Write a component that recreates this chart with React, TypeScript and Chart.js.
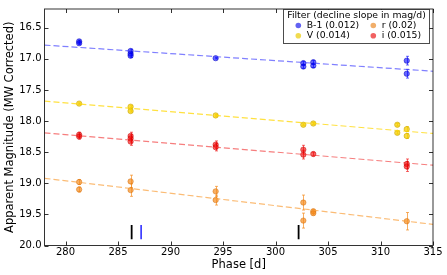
import React, { useEffect, useRef } from "react";
import { Chart, registerables } from "chart.js";
Chart.register(...registerables);

const xTicks = [280, 285, 290, 295, 300, 305, 310, 315];
const yTicks = [16.5, 17.0, 17.5, 18.0, 18.5, 19.0, 19.5, 20.0];

const bPhase = [281.3, 281.3, 286.2, 286.2, 286.2, 294.3, 302.65, 302.65, 303.6, 303.6, 312.5, 312.5];
const bMag = [16.72, 16.75, 16.875, 16.92, 16.95, 16.99, 17.07, 17.125, 17.055, 17.11, 17.03, 17.24];
const bErr = [0.02, 0.02, 0.03, 0.03, 0.03, 0.01, 0.03, 0.03, 0.03, 0.03, 0.07, 0.07];

const vPhase = [281.3, 286.2, 286.2, 294.3, 302.65, 303.6, 311.6, 311.6, 312.5, 312.5];
const vMag = [17.72, 17.77, 17.84, 17.91, 18.06, 18.04, 18.06, 18.19, 18.13, 18.24];
const vErr = [0.01, 0.015, 0.015, 0.015, 0.015, 0.015, 0.02, 0.02, 0.04, 0.04];

const iPhase = [281.3, 281.3, 286.2, 286.2, 286.2, 294.3, 294.3, 302.65, 302.65, 303.6, 312.5, 312.5];
const iMag = [18.22, 18.25, 18.24, 18.28, 18.33, 18.38, 18.42, 18.46, 18.54, 18.53, 18.69, 18.73];
const iErr = [0.04, 0.04, 0.06, 0.06, 0.06, 0.06, 0.06, 0.07, 0.07, 0.03, 0.08, 0.08];

const rPhase = [281.3, 281.3, 286.2, 286.2, 294.3, 294.3, 302.65, 302.65, 303.6, 303.6, 312.5];
const rMag = [18.98, 19.1, 18.97, 19.11, 19.13, 19.27, 19.31, 19.6, 19.45, 19.48, 19.61];
const rErr = [0.04, 0.04, 0.1, 0.1, 0.08, 0.08, 0.12, 0.12, 0.03, 0.03, 0.14];

// fitted decline lines: magnitude at phase 278 and 315
const fitPhase = [278, 315];
const bFit = [16.78, 17.2];
const vFit = [17.68, 18.2];
const iFit = [18.19, 18.71];
const rFit = [18.92, 19.66];

// vertical epoch markers
const markPhase = [286.3, 287.2, 302.2];
const markColor = ["#000000", "#0000ff", "#000000"];
const markRange = [19.67, 19.9];

const legendLabels = ["B-1 (0.012)", "r (0.02)", "V (0.014)", "i (0.015)"];

const FONT = "DejaVu Sans";

const filters = [
  { phase: bPhase, mag: bMag, err: bErr, fit: bFit, fill: "rgba(0,0,255,0.6)", edge: "rgba(0,0,190,0.6)", line: "rgba(60,60,255,0.65)", legend: "rgba(70,70,240,0.85)" },
  { phase: vPhase, mag: vMag, err: vErr, fit: vFit, fill: "rgba(245,205,0,0.75)", edge: "rgba(200,165,0,0.7)", line: "rgba(255,215,0,0.75)", legend: "rgba(240,215,60,0.9)" },
  { phase: iPhase, mag: iMag, err: iErr, fit: iFit, fill: "rgba(240,0,0,0.6)", edge: "rgba(200,0,0,0.6)", line: "rgba(240,40,40,0.6)", legend: "rgba(240,80,80,0.9)" },
  { phase: rPhase, mag: rMag, err: rErr, fit: rFit, fill: "rgba(245,140,30,0.7)", edge: "rgba(210,110,10,0.6)", line: "rgba(250,160,60,0.7)", legend: "rgba(240,165,90,0.9)" },
];

const errorBarPlugin = {
  id: "errorBars",
  beforeDatasetsDraw(chart: any) {
    const ctx = chart.ctx;
    const xs = chart.scales.x;
    const ys = chart.scales.y;
    ctx.save();
    chart.data.datasets.forEach((ds: any) => {
      if (!ds.errs) return;
      ctx.strokeStyle = ds.errColor;
      ctx.lineWidth = 1;
      ds.data.forEach((p: any, k: number) => {
        const e = ds.errs[k];
        const px = Math.round(xs.getPixelForValue(p.x)) + 0.5;
        const y1 = ys.getPixelForValue(p.y - e);
        const y2 = ys.getPixelForValue(p.y + e);
        ctx.beginPath();
        ctx.moveTo(px, y1);
        ctx.lineTo(px, y2);
        ctx.moveTo(px - 1.5, y1);
        ctx.lineTo(px + 1.5, y1);
        ctx.moveTo(px - 1.5, y2);
        ctx.lineTo(px + 1.5, y2);
        ctx.stroke();
      });
    });
    ctx.restore();
  },
};

const framePlugin = {
  id: "frameLegend",
  afterDraw(chart: any) {
    const ctx = chart.ctx;
    const a = chart.chartArea;
    const xs = chart.scales.x;
    const ys = chart.scales.y;
    ctx.save();
    ctx.strokeStyle = "rgba(0,0,0,0.8)";
    ctx.lineWidth = 1;
    ctx.strokeRect(a.left, a.top, a.right - a.left, a.bottom - a.top);
    ctx.beginPath();
    xTicks.forEach((v) => {
      const px = Math.round(xs.getPixelForValue(v)) + 0.5;
      ctx.moveTo(px, a.bottom);
      ctx.lineTo(px, a.bottom - 4);
      ctx.moveTo(px, a.top);
      ctx.lineTo(px, a.top + 4);
    });
    yTicks.forEach((v) => {
      const py = Math.round(ys.getPixelForValue(v)) + 0.5;
      ctx.moveTo(a.left, py);
      ctx.lineTo(a.left + 4, py);
      ctx.moveTo(a.right, py);
      ctx.lineTo(a.right - 4, py);
    });
    ctx.stroke();

    // legend
    const lx = 283.5, ly = 9.5, lw = 146, lh = 34;
    ctx.fillStyle = "#ffffff";
    ctx.fillRect(lx, ly, lw, lh);
    ctx.strokeStyle = "rgba(0,0,0,0.7)";
    ctx.strokeRect(lx, ly, lw, lh);
    ctx.fillStyle = "#000";
    ctx.font = `9.3px "${FONT}"`;
    ctx.textBaseline = "middle";
    ctx.textAlign = "center";
    ctx.fillText("Filter (decline slope in mag/d)", lx + lw / 2, 15.5);
    ctx.textAlign = "left";
    const order = [0, 3, 1, 2];
    const cols = [298.3, 373.3];
    const rows = [25.5, 35.8];
    legendLabels.forEach((lab, k) => {
      const cx = cols[k % 2];
      const cy = rows[Math.floor(k / 2)];
      const f = filters[order[k]];
      ctx.fillStyle = f.legend;
      ctx.beginPath();
      ctx.arc(cx, cy, 2.8, 0, Math.PI * 2);
      ctx.fill();
      ctx.fillStyle = "#000";
      ctx.fillText(lab, cx + 8.4, cy);
    });
    ctx.restore();
  },
};

export default function App() {
  const ref = useRef<HTMLCanvasElement | null>(null);
  useEffect(() => {
    document.body.style.margin = "0";
    const datasets: any[] = [];
    filters.forEach((f) => {
      datasets.push({
        type: "line",
        data: fitPhase.map((x, k) => ({ x, y: f.fit[k] })),
        borderColor: f.line,
        borderWidth: 1.2,
        borderDash: [6, 3],
        pointRadius: 0,
        fill: false,
      });
    });
    filters.forEach((f) => {
      datasets.push({
        type: "scatter",
        data: f.phase.map((x, k) => ({ x, y: f.mag[k] })),
        errs: f.err,
        errColor: f.fill,
        backgroundColor: f.fill,
        borderColor: f.edge,
        borderWidth: 0.8,
        pointRadius: 2.7,
      });
    });
    markPhase.forEach((x, k) => {
      datasets.push({
        type: "line",
        data: markRange.map((y) => ({ x, y })),
        borderColor: markColor[k],
        borderWidth: k === 1 ? 1.3 : 1.8,
        pointRadius: 0,
        fill: false,
      });
    });
    const chart = new Chart(ref.current as HTMLCanvasElement, {
      type: "scatter",
      data: { datasets },
      options: {
        animation: false,
        responsive: false,
        maintainAspectRatio: false,
        layout: { padding: { top: 3, right: 14, left: 0, bottom: 0 } },
        plugins: { legend: { display: false }, tooltip: { enabled: false } },
        scales: {
          x: {
            type: "linear",
            min: 278,
            max: 315,
            afterBuildTicks: (s: any) => {
              s.ticks = xTicks.map((v) => ({ value: v }));
            },
            afterFit: (s: any) => {
              s.height = 29.5;
            },
            grid: { display: false, drawTicks: false },
            border: { display: false },
            ticks: {
              font: { family: FONT, size: 10 },
              color: "#000",
              padding: 1,
              maxRotation: 0,
              autoSkip: false,
              callback: (v: any) => String(v),
            },
            title: {
              display: true,
              text: "Phase [d]",
              font: { family: FONT, size: 11.5 },
              color: "#000",
              padding: { top: 0, bottom: 3 },
            },
          },
          y: {
            type: "linear",
            reverse: true,
            min: 16.2,
            max: 20,
            afterBuildTicks: (s: any) => {
              s.ticks = yTicks.map((v) => ({ value: v }));
            },
            afterFit: (s: any) => {
              s.width = 44.5;
            },
            grid: { display: false, drawTicks: false },
            border: { display: false },
            ticks: {
              font: { family: FONT, size: 10 },
              color: "#000",
              padding: 3,
              autoSkip: false,
              callback: (v: any) => Number(v).toFixed(1),
            },
            title: {
              display: true,
              text: "Apparent Magnitude (MW Corrected)",
              font: { family: FONT, size: 11.5 },
              color: "#000",
              padding: { top: 3, bottom: 0 },
            },
          },
        },
      } as any,
      plugins: [errorBarPlugin, framePlugin],
    });
    return () => chart.destroy();
  }, []);
  return <canvas ref={ref} width={447} height={275} style={{ display: "block" }} />;
}
